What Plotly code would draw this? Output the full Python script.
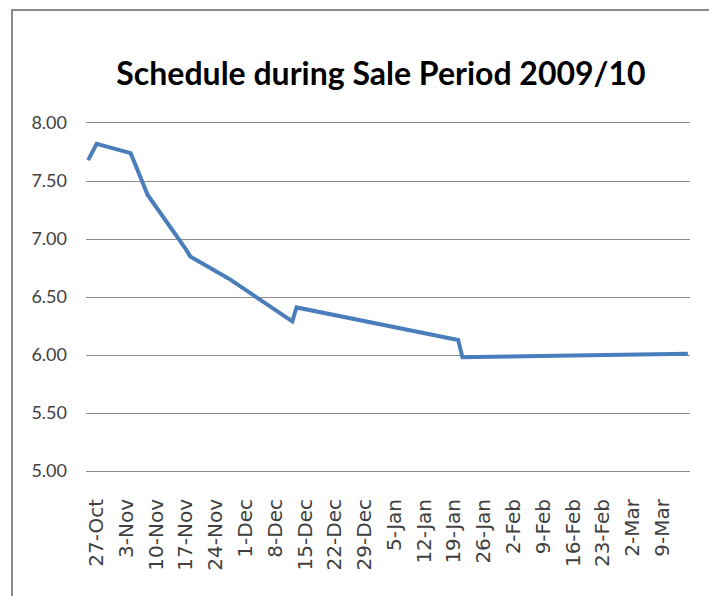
import plotly.graph_objects as go

# Data
dates = ["2009-10-25", "2009-10-27", "2009-11-04", "2009-11-08", "2009-11-17",
         "2009-11-18", "2009-11-27", "2009-12-01", "2009-12-12", "2009-12-13",
         "2010-01-20", "2010-01-21", "2010-03-15"]
values = [7.68, 7.82, 7.74, 7.38, 6.91, 6.85, 6.66, 6.56, 6.29, 6.41, 6.13, 5.98, 6.01]

tick_dates = ["2009-10-27", "2009-11-03", "2009-11-10", "2009-11-17", "2009-11-24",
              "2009-12-01", "2009-12-08", "2009-12-15", "2009-12-22", "2009-12-29",
              "2010-01-05", "2010-01-12", "2010-01-19", "2010-01-26", "2010-02-02",
              "2010-02-09", "2010-02-16", "2010-02-23", "2010-03-02", "2010-03-09"]
tick_labels = ["27-Oct", "3-Nov", "10-Nov", "17-Nov", "24-Nov", "1-Dec", "8-Dec",
               "15-Dec", "22-Dec", "29-Dec", "5-Jan", "12-Jan", "19-Jan", "26-Jan",
               "2-Feb", "9-Feb", "16-Feb", "23-Feb", "2-Mar", "9-Mar"]
y_ticks = [5.0, 5.5, 6.0, 6.5, 7.0, 7.5, 8.0]
y_labels = ["5.00", "5.50", "6.00", "6.50", "7.00", "7.50", "8.00"]

GRID = "#8c8c8c"
# plot area in figure pixels
L, R, T, B = 78, 682, 115, 462.7
W, H = R - L, B - T

fig = go.Figure()
fig.add_trace(go.Scatter(x=dates, y=values, mode="lines",
                         line=dict(color="#4a7ebb", width=4),
                         showlegend=False))

fig.update_layout(
    width=717, height=596,
    margin=dict(l=L, r=717 - R, t=T, b=596 - B, autoexpand=False),
    paper_bgcolor="white", plot_bgcolor="white",
    title=dict(text="<b>Schedule during Sale Period 2009/10</b>",
               font=dict(family="Lato", size=32, color="#000000"),
               x=(373 - L) / W, xref="paper", xanchor="center",
               y=1 - 66 / 596, yref="container", yanchor="middle"),
    xaxis=dict(type="date", automargin=False,
               range=["2009-10-24 12:00", "2010-03-15 12:00"],
               tickvals=tick_dates, ticktext=tick_labels,
               tickangle=-90, showgrid=False, zeroline=False,
               showline=True, mirror=True, linecolor=GRID, linewidth=1,
               ticks="", ticklabelstandoff=19,
               tickfont=dict(family="DejaVu Sans", size=20, color="#404040")),
    yaxis=dict(range=[5.0, 8.0], tickvals=y_ticks, ticktext=y_labels,
               automargin=False,
               showgrid=True, gridcolor=GRID, gridwidth=1,
               showline=False, zeroline=False, ticks="", ticklabelstandoff=18,
               tickfont=dict(family="Lato", size=18, color="#404040")),
    shapes=[dict(type="rect", xref="paper", yref="paper",
                 x0=(4 - L) / W, x1=(702 - L) / W,
                 y0=(B - 600) / H, y1=(B - 2) / H,
                 line=dict(color="#8a8a8a", width=2), layer="below")],
)

fig.write_html("out.html")
